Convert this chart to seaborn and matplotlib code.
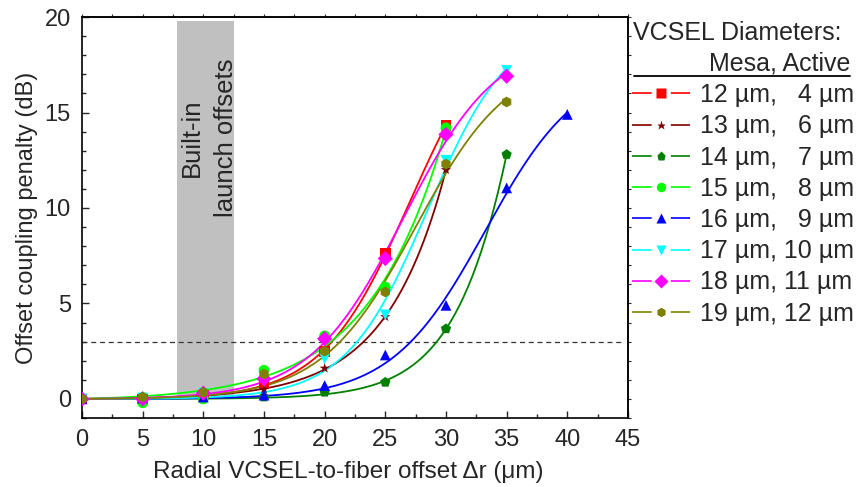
import numpy as np
import pandas as pd
import seaborn as sns
import matplotlib.pyplot as plt
from matplotlib.lines import Line2D
from matplotlib.ticker import MultipleLocator

# Data: radial offset (um) and coupling penalty (dB) per VCSEL size
offsets = [0, 5, 10, 15, 20, 25, 30, 35, 40]

pen_12_4 = [0.0, 0.0, 0.2, 0.8, 2.5, 7.6, 14.3]
pen_13_6 = [0.0, -0.1, 0.1, 0.5, 1.6, 4.3, 12.0]
pen_14_7 = [0.0, 0.1, 0.0, 0.1, 0.35, 0.87, 3.67, 12.8]
pen_15_8 = [0.0, -0.2, 0.0, 1.5, 3.3, 5.85, 14.2]
pen_16_9 = [0.0, 0.05, 0.1, 0.2, 0.7, 2.3, 4.9, 11.05, 14.9]
pen_17_10 = [0.0, 0.05, 0.3, 0.9, 2.1, 4.4, 12.5, 17.2]
pen_18_11 = [0.0, 0.0, 0.3, 1.05, 3.15, 7.35, 13.85, 16.9]
pen_19_12 = [0.0, 0.1, 0.35, 1.3, 2.5, 5.6, 12.3, 15.55]

labels = ["12 µm,   4 µm", "13 µm,   6 µm", "14 µm,   7 µm", "15 µm,   8 µm",
          "16 µm,   9 µm", "17 µm, 10 µm", "18 µm, 11 µm", "19 µm, 12 µm"]
series = [pen_12_4, pen_13_6, pen_14_7, pen_15_8, pen_16_9, pen_17_10, pen_18_11, pen_19_12]
colors = ["#ff0000", "#800000", "#008000", "#00ff00", "#0000ff", "#00ffff", "#ff00ff", "#808000"]
markers = ["s", "*", "p", "o", "^", "v", "D", "h"]

launch_band = (7.8, 12.5)
threshold = 3.0


def sigmoid_fit(x, y):
    # brute-force logistic fit, anchored at 0 for x = 0
    best = None
    for x0 in np.linspace(12, 50, 153):
        for w in np.linspace(1.5, 15, 109):
            f = 1 / (1 + np.exp(-(x - x0) / w)) - 1 / (1 + np.exp(x0 / w))
            a = f @ y / (f @ f)
            r = np.sum((a * f - y) ** 2)
            if best is None or r < best[0]:
                best = (r, x0, w, a)
    _, x0, w, a = best
    return lambda t: a * (1 / (1 + np.exp(-(t - x0) / w)) - 1 / (1 + np.exp(x0 / w)))


rows = []
for lab, vals in zip(labels, series):
    for x, v in zip(offsets, vals):
        rows.append({"offset": x, "penalty": v, "size": lab})
df = pd.DataFrame(rows)

sns.set_theme(style="ticks")
plt.rcParams['font.family'] = ['Liberation Sans', 'DejaVu Sans']
plt.rcParams['font.size'] = 16

fig = plt.figure(figsize=(8.56, 4.87), dpi=100)
ax = fig.add_axes([0.0958, 0.1417, 0.6378, 0.8233])

ax.axvspan(launch_band[0], launch_band[1], ymin=1/21, ymax=20.8/21, color="#c0c0c0", lw=0, zorder=0)
ax.text(10.45, 13.7, "Built-in\nlaunch offsets", rotation=90, ha="center", va="center",
        fontsize=18.5, linespacing=1.55)
ax.plot([0, 44.4], [threshold, threshold], color="#333333", lw=0.9, ls=(0, (4, 3)), zorder=1)

# smooth fitted curves
for lab, vals, c in zip(labels, series, colors):
    xs = np.array(offsets[:len(vals)], dtype=float)
    fit = sigmoid_fit(xs, np.array(vals))
    xf = np.linspace(0, xs[-1], 200)
    ax.plot(xf, fit(xf), color=c, lw=1.3, zorder=2)

sns.scatterplot(data=df, x="offset", y="penalty", hue="size", style="size",
                palette=colors, markers=markers, hue_order=labels, style_order=labels,
                s=60, edgecolor="none", legend=False, ax=ax, zorder=3)

ax.set_xlim(0, 45)
ax.set_ylim(-1, 20)
ax.xaxis.set_major_locator(MultipleLocator(5))
ax.xaxis.set_minor_locator(MultipleLocator(2.5))
ax.yaxis.set_major_locator(MultipleLocator(5))
ax.yaxis.set_minor_locator(MultipleLocator(1))
ax.tick_params(which="both", direction="in", labelsize=17, width=1)
ax.tick_params(which="major", length=5, pad=8)
ax.tick_params(which="minor", length=3)
for s in ax.spines.values():
    s.set_linewidth(1.2)
    s.set_color("black")

# short outward ticks on top and right
top = ax.secondary_xaxis("top")
top.xaxis.set_major_locator(MultipleLocator(2.5))
top.tick_params(direction="out", length=2.5, width=0.8, labeltop=False)
right = ax.secondary_yaxis("right")
right.yaxis.set_major_locator(MultipleLocator(1))
right.tick_params(direction="out", length=2.5, width=0.8, labelright=False)

ax.set_xlabel("Radial VCSEL-to-fiber offset Δr (μm)", fontsize=17.5)
ax.xaxis.set_label_coords(0.488, -0.107)
ax.set_ylabel("Offset coupling penalty (dB)", fontsize=17, labelpad=5)

# legend: line - marker - line handles
handles = [Line2D([], [], color=c, marker=m, markersize=6.8, lw=1.2, markeredgecolor="none",
                  ls=(0, (11.8, 11.5, 11.8, 100)))
           for c, m in zip(colors, markers)]
fig.text(633 / 856, 1 - 33 / 487, "VCSEL Diameters:", fontsize=18, ha="left", va="center")
fig.text(850 / 856, 1 - 63 / 487, "Mesa, Active", fontsize=18, ha="right", va="center")
fig.add_artist(Line2D([634 / 856, 850 / 856], [1 - 76 / 487] * 2, color="black", lw=1.3,
                      transform=fig.transFigure))
fig.legend(handles, labels, loc="upper left", bbox_to_anchor=(627 / 856, 1 - 78 / 487),
           frameon=False, fontsize=18, handlelength=2.3, handletextpad=0.4,
           labelspacing=0.29, borderaxespad=0, borderpad=0.2)

fig.savefig("out.png", dpi=100)
